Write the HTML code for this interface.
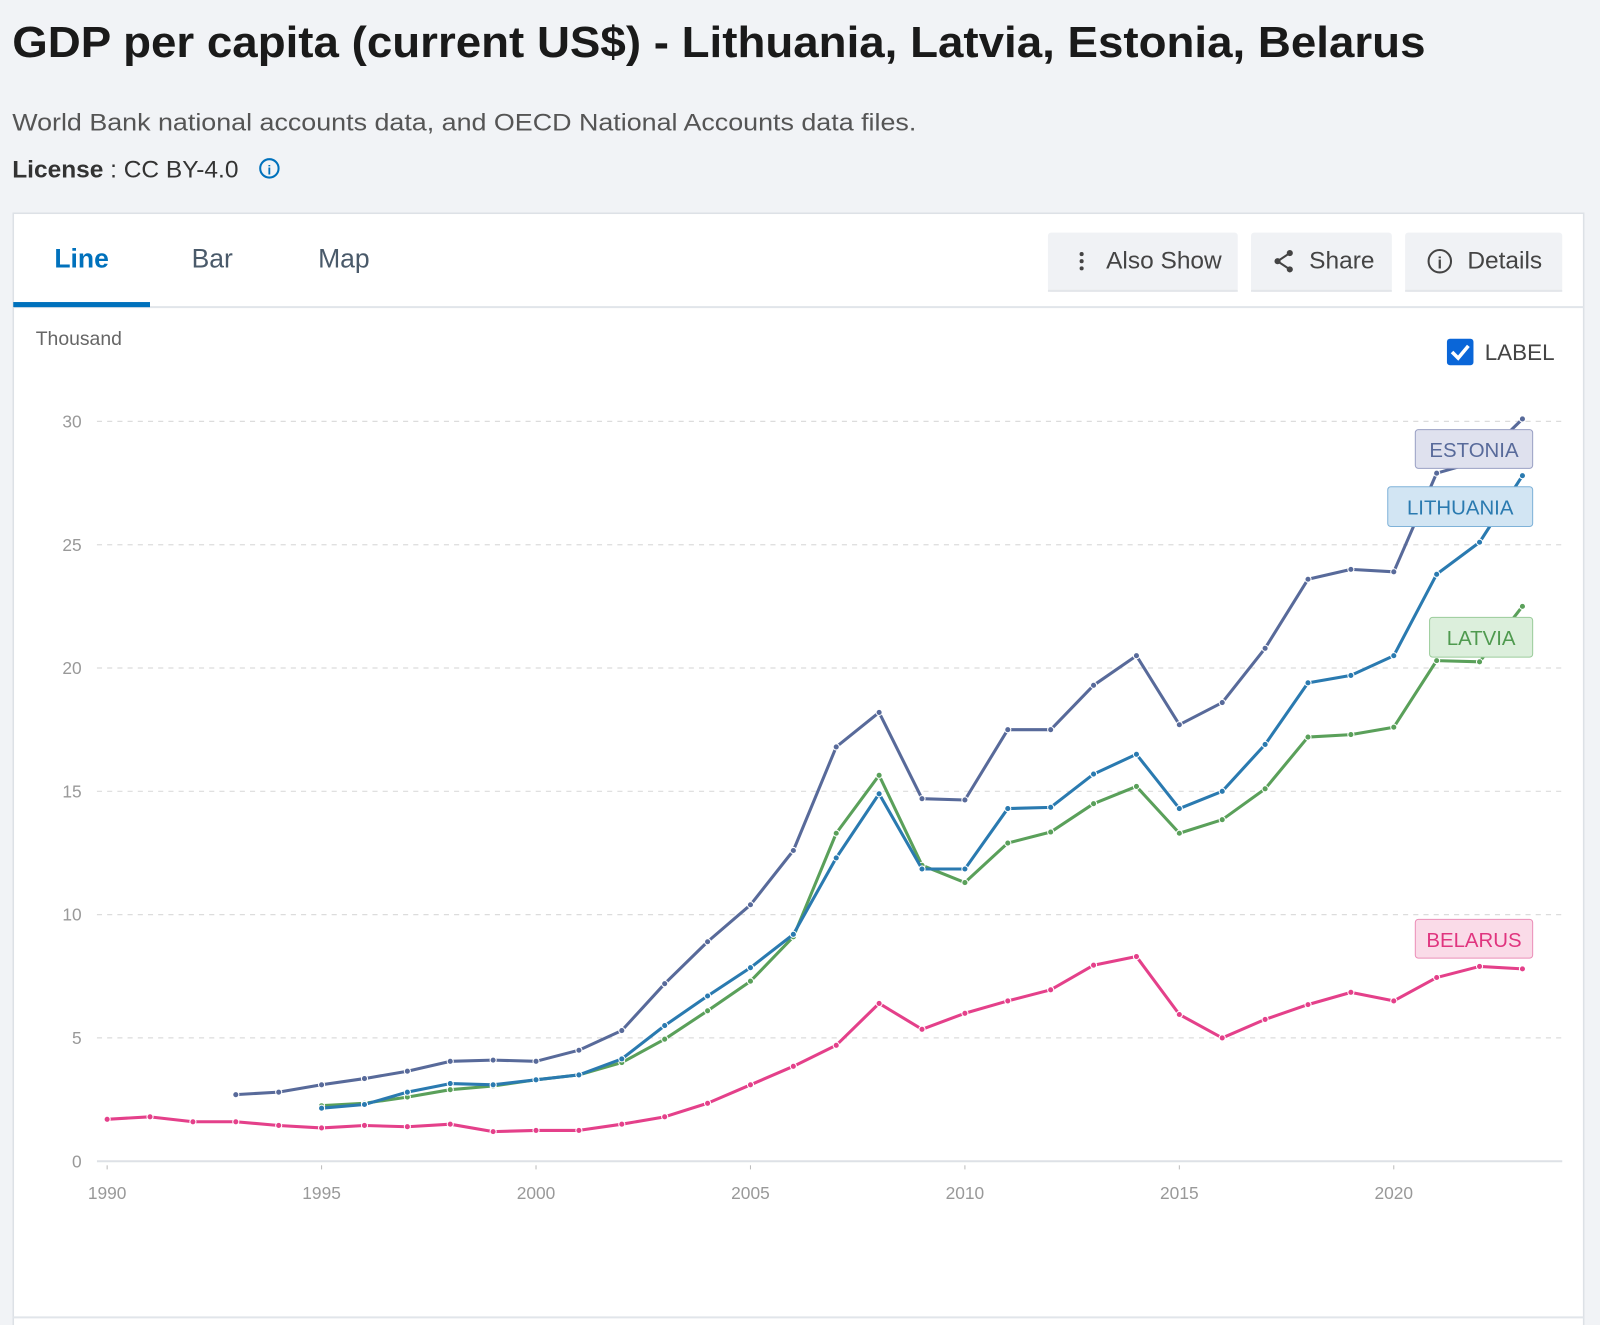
<!DOCTYPE html>
<html><head><meta charset="utf-8">
<style>
html,body{margin:0;padding:0;background:#f1f3f6;width:1600px;height:1325px;overflow:hidden}
svg{display:block;font-family:"Liberation Sans",sans-serif}
</style></head>
<body>
<svg id="s" width="1600" height="1325" viewBox="0 0 1568 1298.5" xmlns="http://www.w3.org/2000/svg">
<rect x="0" y="0" width="1568" height="1300" fill="#f1f3f6"/>
<text x="12" y="56" font-size="43" font-weight="bold" fill="#1a1a1a" textLength="1385" lengthAdjust="spacingAndGlyphs">GDP per capita (current US$) - Lithuania, Latvia, Estonia, Belarus</text>
<text x="12" y="128" font-size="24" fill="#555" textLength="886" lengthAdjust="spacingAndGlyphs">World Bank national accounts data, and OECD National Accounts data files.</text>
<text x="12" y="174" font-size="24" fill="#333"><tspan font-weight="bold">License</tspan> : CC BY-4.0</text>
<circle cx="264" cy="165" r="9" fill="none" stroke="#0071bc" stroke-width="2"/>
<text x="264" y="171" font-size="13" font-weight="bold" fill="#0071bc" text-anchor="middle">i</text>
<rect x="13" y="209" width="1539" height="1100" fill="#fff" stroke="#dde1e6" stroke-width="1.5"/>
<line x1="13" y1="301" x2="1552" y2="301" stroke="#e1e5ea" stroke-width="2"/>
<rect x="13" y="296" width="134" height="5" fill="#0071bc"/>
<text x="80" y="262" font-size="26" fill="#0071bc" text-anchor="middle" font-weight="bold">Line</text>
<text x="208" y="262" font-size="26" fill="#4a5a6a" text-anchor="middle">Bar</text>
<text x="337" y="262" font-size="26" fill="#4a5a6a" text-anchor="middle">Map</text>
<g fill="#f0f2f5"><rect x="1027" y="228" width="186" height="58" rx="3"/><rect x="1226" y="228" width="138" height="58" rx="3"/><rect x="1377" y="228" width="154" height="58" rx="3"/></g>
<g fill="#e3e6ea"><rect x="1027" y="284" width="186" height="2"/><rect x="1226" y="284" width="138" height="2"/><rect x="1377" y="284" width="154" height="2"/></g>
<g fill="#444"><circle cx="1060" cy="249" r="2"/><circle cx="1060" cy="256" r="2"/><circle cx="1060" cy="263" r="2"/>
<circle cx="1252" cy="256" r="3"/><circle cx="1264" cy="248" r="3"/><circle cx="1264" cy="264" r="3"/></g>
<path d="M1252 256 L1264 248 M1252 256 L1264 264" stroke="#444" stroke-width="2"/>
<circle cx="1411" cy="256" r="11" fill="none" stroke="#444" stroke-width="2"/>
<text x="1411" y="263" font-size="16" font-weight="bold" fill="#444" text-anchor="middle">i</text>
<g font-size="24" fill="#444"><text x="1084" y="263">Also Show</text><text x="1283" y="263">Share</text><text x="1438" y="263">Details</text></g>
<text x="35" y="338" font-size="19" fill="#666">Thousand</text>
<rect x="1418" y="332" width="26" height="26" rx="3" fill="#0a66d8"/>
<path d="M1423 345 L1429 351 L1439 339" stroke="#fff" stroke-width="3.5" fill="none"/>
<text x="1455" y="353" font-size="22" fill="#444">LABEL</text>
<g id="grid"></g>
<g id="series"></g>
<g font-size="20">
<rect x="1387" y="421" width="115" height="38" rx="3" fill="#dfe1ee" stroke="#9aa0c4"/><text x="1444.5" y="448" text-anchor="middle" fill="#586a9a">ESTONIA</text>
<rect x="1360" y="477" width="142" height="39" rx="3" fill="#d2e5f3" stroke="#7fb2d8"/><text x="1431" y="504" text-anchor="middle" fill="#2a7ab0">LITHUANIA</text>
<rect x="1401" y="605" width="101" height="39" rx="3" fill="#dcefdc" stroke="#9bcc9b"/><text x="1451.5" y="632" text-anchor="middle" fill="#4f9a4f">LATVIA</text>
<rect x="1387" y="901" width="115" height="38" rx="3" fill="#fadbe8" stroke="#eb8fb8"/><text x="1444.5" y="928" text-anchor="middle" fill="#e0357f">BELARUS</text>
</g>
<line x1="13" y1="1291" x2="1552" y2="1291" stroke="#e1e5ea" stroke-width="2"/>
</svg>
<script>
var NS="http://www.w3.org/2000/svg";
function X(y){return 105+(y-1990)*42.03;}
function Y(v){return 1138-v*24.167;}
function el(t,a,p){var e=document.createElementNS(NS,t);for(var k in a)e.setAttribute(k,a[k]);if(p)p.appendChild(e);return e;}
var g=document.getElementById('grid');
for(var i=0;i<=6;i++){var y=Y(i*5);
 if(i>0)el('line',{x1:95,y1:y,x2:1531,y2:y,stroke:'#dcdcdc','stroke-dasharray':'5,5','stroke-width':1.2},g);
 var t=el('text',{x:80,y:y+6,'font-size':17,fill:'#999','text-anchor':'end'},g);t.textContent=i*5;}
el('line',{x1:95,y1:1138,x2:1531,y2:1138,stroke:'#dde1e6','stroke-width':2},g);
for(var yr=1990;yr<=2020;yr+=5){el('line',{x1:X(yr),y1:1142,x2:X(yr),y2:1146,stroke:'#bbb'},g);
 var t=el('text',{x:X(yr),y:1175,'font-size':17,fill:'#999','text-anchor':'middle'},g);t.textContent=yr;}
var S=[
['#e4408a',1990,[1.7,1.8,1.6,1.6,1.45,1.35,1.45,1.4,1.5,1.2,1.25,1.25,1.5,1.8,2.35,3.1,3.85,4.7,6.4,5.35,6.0,6.5,6.95,7.95,8.3,5.95,5.0,5.75,6.35,6.85,6.5,7.45,7.9,7.8]],
['#5aa05a',1995,[2.25,2.35,2.6,2.9,3.05,3.3,3.5,4.0,4.95,6.1,7.3,9.1,13.3,15.65,12.0,11.3,12.9,13.35,14.5,15.2,13.3,13.85,15.1,17.2,17.3,17.6,20.3,20.25,22.5]],
['#2a7ab0',1995,[2.15,2.3,2.8,3.15,3.1,3.3,3.5,4.15,5.5,6.7,7.85,9.2,12.3,14.9,11.85,11.85,14.3,14.35,15.7,16.5,14.3,15.0,16.9,19.4,19.7,20.5,23.8,25.1,27.8]],
['#586a9a',1993,[2.7,2.8,3.1,3.35,3.65,4.05,4.1,4.05,4.5,5.3,7.2,8.9,10.4,12.6,16.8,18.2,14.7,14.65,17.5,17.5,19.3,20.5,17.7,18.6,20.8,23.6,24.0,23.9,27.9,28.4,30.1]]];
var sg=document.getElementById('series');
S.forEach(function(s){var d='';s[2].forEach(function(v,i){d+=(i?'L':'M')+X(s[1]+i).toFixed(1)+' '+Y(v).toFixed(1);});
 el('path',{d:d,fill:'none',stroke:s[0],'stroke-width':3,'stroke-linejoin':'round'},sg);
 s[2].forEach(function(v,i){el('circle',{cx:X(s[1]+i),cy:Y(v),r:3,fill:s[0],stroke:'#fff','stroke-width':1},sg);});});
</script>
</body></html>
